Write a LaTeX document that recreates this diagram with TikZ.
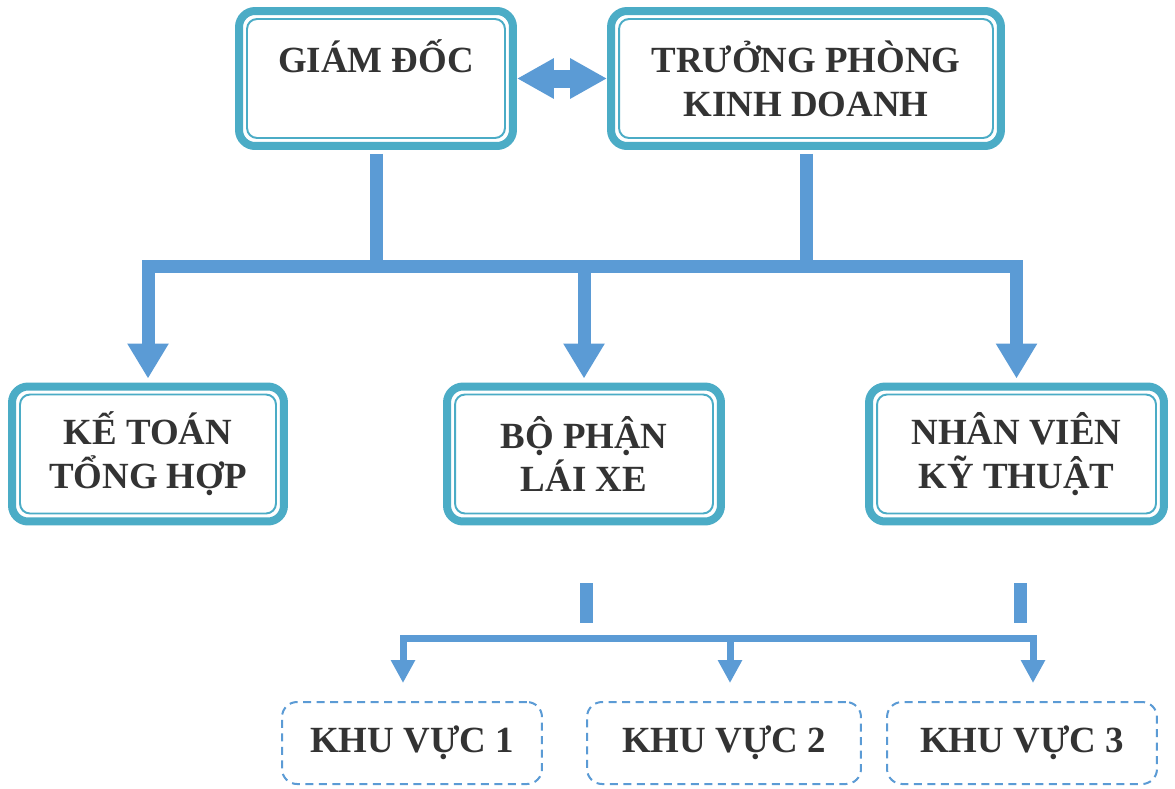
\documentclass[tikz,border=0pt]{standalone}
\usepackage{fontspec}
\setmainfont{Liberation Serif}
\usepackage{tikz}
\usetikzlibrary{arrows.meta}

\definecolor{ringteal}{HTML}{4BACC6}
\definecolor{linkblue}{HTML}{5B9BD5}
\definecolor{inkgray}{HTML}{333333}

\newcommand{\boxfont}{\fontsize{21}{25}\selectfont\bfseries}

\tikzset{
  ringbox/.style={draw=ringteal, line width=0.16cm, rounded corners=0.32cm,
    fill=white, font=\boxfont, text=inkgray, align=center,
    minimum height=2.7cm,
    path picture={\draw[ringteal, line width=1.1pt, rounded corners=0.2cm]
      ([shift={(0.16cm,-0.16cm)}]path picture bounding box.north west) rectangle
      ([shift={(-0.16cm,0.16cm)}]path picture bounding box.south east);}},
  areabox/.style={draw=linkblue, line width=0.04cm, rounded corners=0.3cm,
    dash pattern=on 0.16cm off 0.11cm, font=\boxfont, text=inkgray,
    minimum height=1.64cm},
  conn/.style={draw=linkblue, line width=0.26cm},
  thinconn/.style={draw=linkblue, line width=0.14cm},
  bigtip/.tip={Triangle[width=0.78cm,length=0.7cm]},
  smalltip/.tip={Triangle[width=0.46cm,length=0.46cm]}
}

\begin{document}
\begin{tikzpicture}[x=0.02cm,y=-0.02cm]
  \useasboundingbox (0,0) rectangle (1175,788);
  \fill[white] (0,0) rectangle (1175,788);

  \node[ringbox, minimum width=5.48cm, text depth=0.88cm] (gd) at (376,78.5) {GIÁM ĐỐC};
  \node[ringbox, minimum width=7.8cm] (tp) at (806,78.5) {TRƯỞNG PHÒNG\\KINH DOANH};
  \node[ringbox, minimum width=5.44cm] (kt) at (148,454) {KẾ TOÁN\\TỔNG HỢP};
  \node[ringbox, minimum width=5.48cm] (bp) at (584,454) {BỘ PHẬN\\LÁI XE};
  \node[ringbox, minimum width=5.9cm] (nv) at (1016.5,454) {NHÂN VIÊN\\KỸ THUẬT};

  \node[areabox, minimum width=5.2cm] (kv1) at (412,743) {KHU VỰC 1};
  \node[areabox, minimum width=5.48cm] (kv2) at (724,743) {KHU VỰC 2};
  \node[areabox, minimum width=5.4cm] (kv3) at (1022,743) {KHU VỰC 3};

  \coordinate (bus) at (0,266);
  \coordinate (lowbus) at (0,638);
  \coordinate (s1) at (586,583);
  \coordinate (s2) at (1020,583);
  \coordinate (k1) at (403,683);
  \coordinate (k2) at (730,683);
  \coordinate (k3) at (1033,683);

  \draw[draw=linkblue, line width=0.36cm,
    {Triangle[width=0.76cm,length=0.74cm]}-{Triangle[width=0.76cm,length=0.74cm]}]
    (gd.east) -- (tp.west);

  \draw[conn, shorten <=0.08cm] (gd.south) -- (gd.south |- bus);
  \draw[conn, shorten <=0.08cm] (tp.south) -- (tp.south |- bus);
  \draw[conn, {bigtip}-{bigtip}, shorten <=0.08cm, shorten >=0.08cm]
    (kt.north) -- (kt.north |- bus) -- (nv.north |- bus) -- (nv.north);
  \draw[conn, -{bigtip}, shorten >=0.08cm] (bp.north |- bus) -- (bp.north);

  \draw[conn] (s1) -- ++(0,40);
  \draw[conn] (s2) -- ++(0,40);
  \draw[thinconn, {smalltip}-{smalltip}]
    (k1) -- (k1 |- lowbus) -- (k3 |- lowbus) -- (k3);
  \draw[thinconn, -{smalltip}] (k2 |- lowbus) -- (k2);
\end{tikzpicture}
\end{document}
